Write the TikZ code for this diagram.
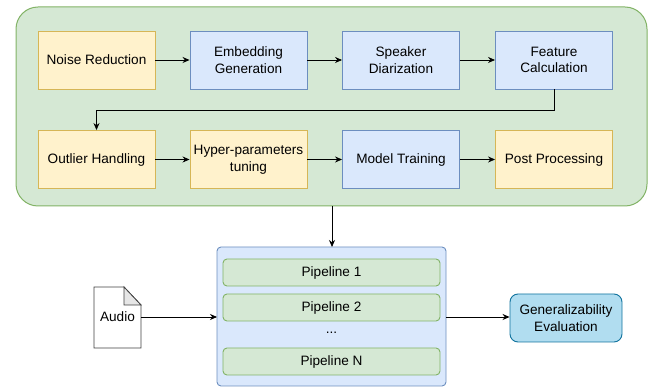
\documentclass[tikz,border=0pt]{standalone}
\usepackage{fontspec}
\setmainfont{Liberation Sans}
\usetikzlibrary{arrows.meta,calc}

\definecolor{yelfill}{HTML}{FFF2CC}
\definecolor{yelline}{HTML}{D6B656}
\definecolor{bluefill}{HTML}{DAE8FC}
\definecolor{blueline}{HTML}{6C8EBF}
\definecolor{grnfill}{HTML}{D5E8D4}
\definecolor{grnline}{HTML}{82B366}
\definecolor{evalfill}{HTML}{B1DDF0}
\definecolor{evalline}{HTML}{10739E}
\definecolor{foldfill}{HTML}{E6E6E6}

\tikzset{
  every node/.style={font=\fontsize{13.6}{16.5}\selectfont, text=black},
  stage/.style={draw, line width=0.9pt, minimum width=117pt, minimum height=58pt,
    align=center, inner sep=1pt},
  yel/.style={stage, fill=yelfill, draw=yelline},
  blu/.style={stage, fill=bluefill, draw=blueline},
  pipe/.style={draw=grnline, fill=grnfill, line width=0.9pt, rounded corners=4pt,
    minimum width=217pt, minimum height=27pt, inner sep=0pt},
  flow/.style={-{Stealth[length=7pt,width=6pt]}, line width=0.8pt, black},
}

\begin{document}
\begin{tikzpicture}[x=1pt,y=-1pt]
\useasboundingbox (0,0) rectangle (649,387);

% outer container holding the processing steps
\draw[draw=grnline, fill=grnfill, line width=1pt, rounded corners=22pt]
  (16,7) rectangle (647,206);
\coordinate (contbot) at (332,206);

% first row
\node[yel] (noise) at (96.5,60) {Noise Reduction};
\node[blu] (embed) at (248.5,60) {Embedding\\Generation};
\node[blu] (spk)   at (401,60) {Speaker\\Diarization};
\node[blu] (feat)  at (554,60) {Feature\\Calculation};

% second row
\node[yel] (outl)  at (96.5,159.5) {Outlier Handling};
\node[yel] (hyper) at (248.5,159.5) {Hyper-parameters\\tuning};
\node[blu] (model) at (401,159.5) {Model Training};
\node[yel] (post)  at (554,159.5) {Post Processing};

\draw[flow] (noise) -- (embed);
\draw[flow] (embed) -- (spk);
\draw[flow] (spk) -- (feat);
\draw[flow] (feat.south) -- ++(0,21) -| (outl.north);
\draw[flow] (outl) -- (hyper);
\draw[flow] (hyper) -- (model);
\draw[flow] (model) -- (post);

% pipelines box
\draw[draw=blueline, fill=bluefill, line width=0.9pt, rounded corners=4pt]
  (217,247) rectangle (446,386);
\coordinate (pbtop) at (332,247);
\coordinate (pbleft) at (217,317);
\coordinate (pbright) at (446,317);
\node[pipe] (p1) at (331.5,272.5) {Pipeline 1};
\node[pipe] (p2) at (331.5,307.5) {Pipeline 2};
\node (dots) at (331.5,333) {...};
\node[pipe] (pn) at (331.5,361.5) {Pipeline N};

\draw[flow] (contbot) -- (pbtop);

% audio document with folded corner
\draw[line width=0.8pt, fill=white, draw=black!75]
  (94,287) -- (124,287) -- (141,305) -- (141,348) -- (94,348) -- cycle;
\draw[line width=0.8pt, fill=foldfill, draw=black!75]
  (124,287) -- (124,305) -- (141,305) -- cycle;
\node (audio) at (117.5,317) {Audio};
\coordinate (audioout) at (141,317);

\draw[flow] (audioout) -- (pbleft);

% evaluation
\node[draw=evalline, fill=evalfill, line width=0.9pt, rounded corners=8pt,
  minimum width=112pt, minimum height=48pt, align=center, inner sep=1pt]
  (eval) at (566,318) {Generalizability\\Evaluation};

\draw[flow] (pbright) -- (eval.west |- pbright);
\end{tikzpicture}
\end{document}
